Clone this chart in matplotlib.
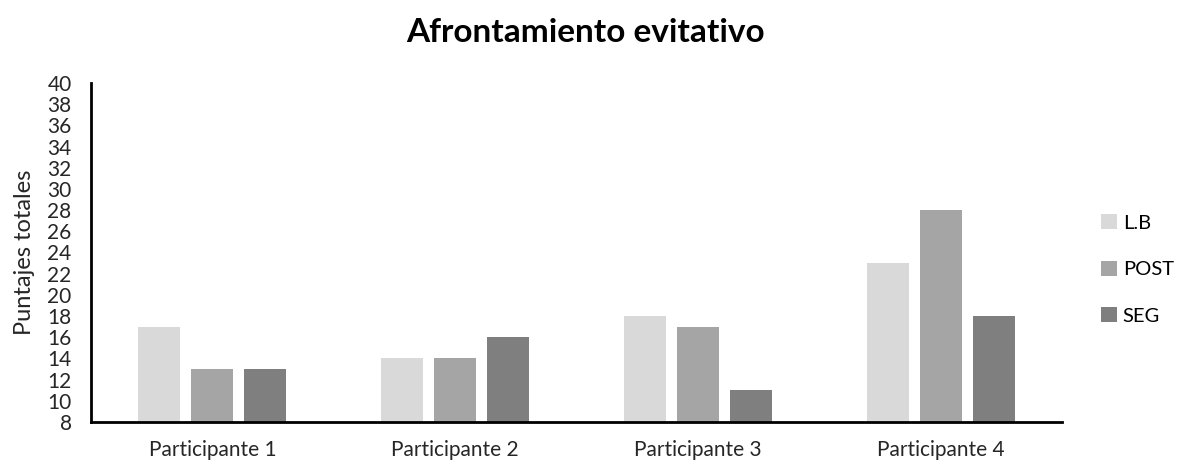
import matplotlib.pyplot as plt
import numpy as np

plt.rcParams['font.family'] = ['Lato', 'DejaVu Sans']

participantes = ["Participante 1", "Participante 2", "Participante 3", "Participante 4"]
lb = [17, 14, 18, 23]
post = [13, 14, 17, 28]
seg = [13, 16, 11, 18]

series = [("L.B", lb, "#d9d9d9"), ("POST", post, "#a5a5a5"), ("SEG", seg, "#7f7f7f")]

fig = plt.figure(figsize=(11.83, 4.65), dpi=100)
ax = fig.add_axes([91/1183, 1 - 422/465, (1062-91)/1183, (422-83)/465])

x = np.arange(len(participantes))
width = 0.173
offsets = [-0.218, 0, 0.218]
for (name, vals, color), off in zip(series, offsets):
    # bars start from the axis floor (8)
    ax.bar(x + off, np.array(vals) - 8, width, bottom=8, color=color, label=name)

ax.set_xlim(-0.5, 3.5)
ax.set_ylim(8, 40)
ax.set_yticks(range(8, 41, 2))
ax.set_xticks(x)
ax.set_xticklabels(participantes)
ax.tick_params(axis='both', length=0, labelsize=15, colors="#262626")
ax.tick_params(axis='x', pad=13)
ax.tick_params(axis='y', pad=14)

for s in ["top", "right"]:
    ax.spines[s].set_visible(False)
for s in ["left", "bottom"]:
    ax.spines[s].set_linewidth(2)
    ax.spines[s].set_color("black")

ax.set_ylabel("Puntajes totales", fontsize=17, color="#262626", labelpad=9)
fig.text(586/1183, 1 - 32/465, "Afrontamiento evitativo", ha="center", va="center",
         fontsize=24, fontweight="bold")

ax.legend(loc="center left", bbox_to_anchor=(1.022, 0.45), frameon=False,
          fontsize=14.5, handlelength=0.75, handleheight=0.75, handletextpad=0.3,
          labelspacing=1.45)

fig.savefig("out.png", dpi=100)
